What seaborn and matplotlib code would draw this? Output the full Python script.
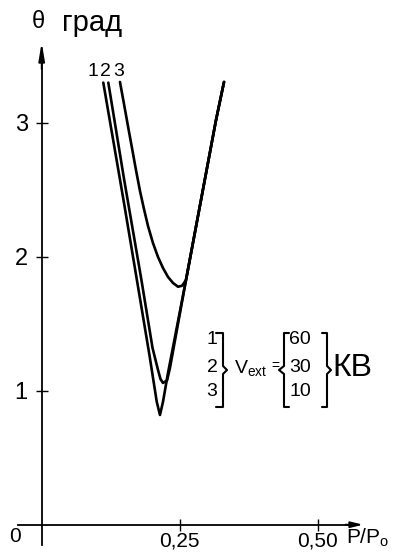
import numpy as np
import pandas as pd
import seaborn as sns
import matplotlib.pyplot as plt

# theta (deg) vs P/P0 for three extraction voltages
curve_ids = ["1", "2", "3"]
v_ext_kv = ["60", "30", "10"]

x_1 = [0.1116, 0.1482, 0.1725, 0.1952, 0.2085, 0.2143, 0.2197, 0.2288, 0.2614, 0.2886, 0.3158, 0.3303]
y_1 = [3.299, 2.423, 1.826, 1.266, 0.916, 0.819, 0.916, 1.132, 1.826, 2.423, 3.020, 3.304]

x_2 = [0.1207, 0.1495, 0.1807, 0.2008, 0.2107, 0.2152, 0.2197, 0.2270, 0.2324, 0.2614, 0.2886, 0.3158, 0.3303]
y_2 = [3.299, 2.572, 1.826, 1.319, 1.155, 1.087, 1.058, 1.076, 1.170, 1.826, 2.423, 3.020, 3.304]

x_3 = [0.1418, 0.1491, 0.1563, 0.1636, 0.1708, 0.1781, 0.1853, 0.1926, 0.2016, 0.2107,
       0.2197, 0.2288, 0.2379, 0.2469, 0.2542, 0.2614, 0.2886, 0.3158, 0.3303]
y_3 = [3.304, 3.140, 2.975, 2.811, 2.647, 2.490, 2.356, 2.229, 2.102, 1.998,
       1.916, 1.849, 1.804, 1.776, 1.783, 1.826, 2.423, 3.020, 3.304]

y_ticks = [1, 2, 3]
x_ticks = [0.25, 0.50]
x_tick_labels = ["0,25", "0,50"]

df = pd.concat([
    pd.DataFrame({"p": x, "theta": y, "curve": c})
    for x, y, c in zip([x_1, x_2, x_3], [y_1, y_2, y_3], curve_ids)
])

sns.set_theme(style="white")
plt.rcParams["font.family"] = ["Liberation Sans Narrow", "Liberation Sans", "DejaVu Sans"]

W, H = 394, 556
fig = plt.figure(figsize=(W / 100, H / 100), dpi=100)
ax = fig.add_axes([0, 0, 1, 1])
ax.set_facecolor("white")

sns.lineplot(data=df, x="p", y="theta", units="curve", estimator=None,
             sort=False, color="black", linewidth=1.9, ax=ax, legend=False)

ax.set_xlim(-0.0755, 0.6382)
ax.set_ylim(-0.2336, 3.9157)

for s in ["top", "right"]:
    ax.spines[s].set_visible(False)
for s in ["left", "bottom"]:
    ax.spines[s].set_position(("data", 0))
    ax.spines[s].set_color("black")
    ax.spines[s].set_linewidth(1.3)
ax.spines["left"].set_bounds(-0.15, 3.45)
ax.spines["bottom"].set_bounds(-0.043, 0.56)

# arrow heads on the axes
ax.annotate("", xy=(0, 3.60), xytext=(0, 3.40),
            arrowprops=dict(arrowstyle="-|>,head_length=0.9,head_width=0.15",
                            color="black", lw=1.3, shrinkA=0, shrinkB=0))
ax.annotate("", xy=(0.582, 0), xytext=(0.55, 0),
            arrowprops=dict(arrowstyle="-|>,head_length=0.6,head_width=0.15",
                            color="black", lw=1.3, shrinkA=0, shrinkB=0))

ax.set_yticks(y_ticks)
ax.set_yticklabels([str(t) for t in y_ticks])
ax.set_xticks(x_ticks)
ax.set_xticklabels(x_tick_labels)
ax.tick_params(axis="y", direction="inout", length=8, width=1.0, pad=6,
               labelsize=17, colors="black", left=True)
ax.tick_params(axis="x", direction="inout", length=8, width=1.0, pad=1,
               labelsize=15, colors="black", bottom=True)
ax.set_xlabel("")
ax.set_ylabel("")


def put(px, py, s, size, **kw):
    fig.text(px / W, 1 - py / H, s, fontsize=size, ha=kw.pop("ha", "center"),
             va=kw.pop("va", "center"), color="black", **kw)


def bracket(x0, x1, y0, y1, tip):
    # square bracket with a small point in the middle, drawn in pixels
    ym = (y0 + y1) / 2
    xs = [x0, x1, x1, tip, x1, x1, x0]
    ys = [y0, y0, ym - 4, ym, ym + 4, y1, y1]
    fig.add_artist(plt.Line2D([v / W for v in xs], [1 - v / H for v in ys],
                              color="black", lw=1.5))


# axis titles
put(38, 22, "θ", 17)
put(62, 23, "град", 21, ha="left")
put(15, 537, "0", 15)
put(346, 538, r"P/P$_\mathregular{o}$", 15, ha="left")

# curve numbers
for px, s in zip([93, 105, 119], curve_ids):
    put(px, 72, s, 14)

# legend block
rows = [340, 368, 392]
for py, a, b in zip(rows, curve_ids, v_ext_kv):
    put(212, py, a, 14)
    put(300, py, b, 14)
bracket(216, 223, 333, 407, 227)
bracket(289, 284, 333, 407, 279)
bracket(322, 327, 333, 407, 331)
put(234, 369, r"V$_\mathregular{ext}$", 14, ha="left")
put(275, 366, "=", 10)
put(332, 368, "КВ", 23, ha="left")

fig.savefig("out.png", dpi=100, facecolor="white")
